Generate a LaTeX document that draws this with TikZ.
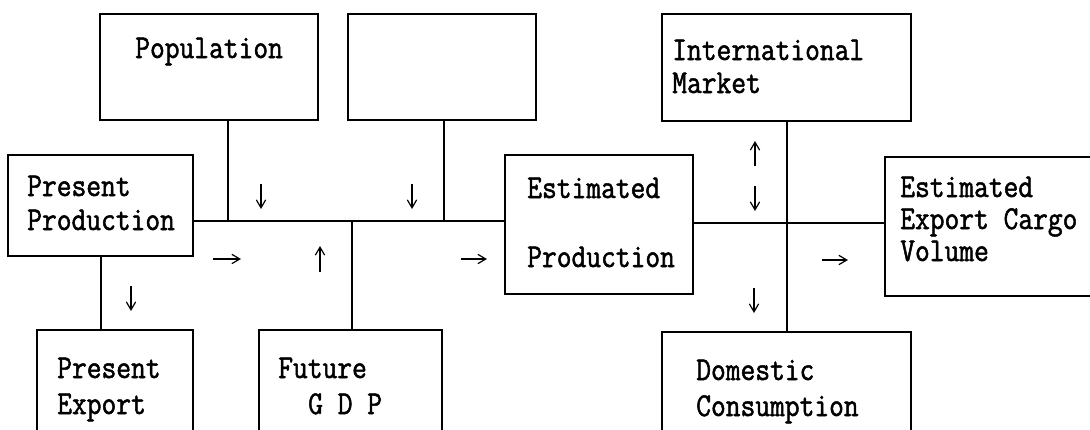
\documentclass[tikz,border=0pt]{standalone}
\usepackage{fontspec}
\usetikzlibrary{fit,arrows.meta}
\newfontfamily\printfont[FakeStretch=0.86,FakeBold=1.5]{Latin Modern Mono}
\tikzset{
  box/.style={draw, line width=1.2pt, inner sep=0pt, rectangle},
  lbl/.style={anchor=base west, inner sep=0pt,
    font=\printfont\fontsize{25pt}{30pt}\selectfont},
  link/.style={line width=1.2pt},
  tick/.style={line width=0.9pt, -{Straight Barb[length=6pt,width=7pt]}}
}
\begin{document}
\begin{tikzpicture}[x=0.75pt,y=-0.75pt]
\useasboundingbox (0,0) rectangle (1090,429);
\clip (0,0) rectangle (1090,429);

% boxes
\node[box, fit={(100,14) (318,120)}] (pop) {};
\node[box, fit={(348,14) (536,120)}] (blank) {};
\node[box, fit={(662,14) (911,121)}] (intl) {};
\node[box, fit={(8,155) (193,256)}] (presprod) {};
\node[box, fit={(505,155) (693,294)}] (estprod) {};
\node[box, fit={(885,157) (1110,296)}] (cargo) {};
\node[box, fit={(37,330) (193,450)}] (presexp) {};
\node[box, fit={(259,330) (442,450)}] (gdp) {};
\node[box, fit={(662,332) (911,450)}] (domestic) {};

% labels
\node[lbl] (tPop) at (135,58) {Population};
\node[lbl] (tIntl1) at (672,60) {International};
\node[lbl] (tIntl2) at (672,93) {Market};
\node[lbl] (tPP1) at (27,196) {Present};
\node[lbl] (tPP2) at (27,230) {Production};
\node[lbl] (tEP1) at (527,198) {Estimated};
\node[lbl] (tEP2) at (527,267) {Production};
\node[lbl] (tC1) at (900,197) {Estimated};
\node[lbl] (tC2) at (900,229) {Export Cargo};
\node[lbl] (tC3) at (900,261) {Volume};
\node[lbl] (tPE1) at (57,378) {Present};
\node[lbl] (tPE2) at (57,414) {Export};
\node[lbl] (tG1) at (278,378) {Future};
\node[lbl] (tG2) at (308,414) {G D P};
\node[lbl] (tD1) at (696,380) {Domestic};
\node[lbl] (tD2) at (696,416) {Consumption};

% junction points on the horizontal lines
\coordinate (jPop) at (228,221);
\coordinate (jBlank) at (444,221);
\coordinate (jGdp) at (352,221);

% connecting lines
\draw[link] (presprod.east |- jPop) -- (estprod.west |- jPop);
\draw[link] (pop.south -| jPop) -- (jPop);
\draw[link] (blank.south -| jBlank) -- (jBlank);
\draw[link] (gdp.north -| jGdp) -- (jGdp);
\draw[link] (presprod.south -| 101,0) -- (presexp.north -| 101,0);
\draw[link] (estprod.east |- 0,223) -- (cargo.west |- 0,223);
\draw[link] (intl.south -| 787,0) -- (domestic.north -| 787,0);

% small direction arrows
\draw[tick] (261,184) -- (261,209);
\draw[tick] (412,184) -- (412,209);
\draw[tick] (213,259) -- (241,259);
\draw[tick] (320,272) -- (320,246);
\draw[tick] (461,259) -- (487,259);
\draw[tick] (755,166) -- (755,141);
\draw[tick] (755,186) -- (755,211);
\draw[tick] (754,288) -- (754,313);
\draw[tick] (822,260) -- (848,260);
\draw[tick] (131,286) -- (131,311);
\end{tikzpicture}
\end{document}
